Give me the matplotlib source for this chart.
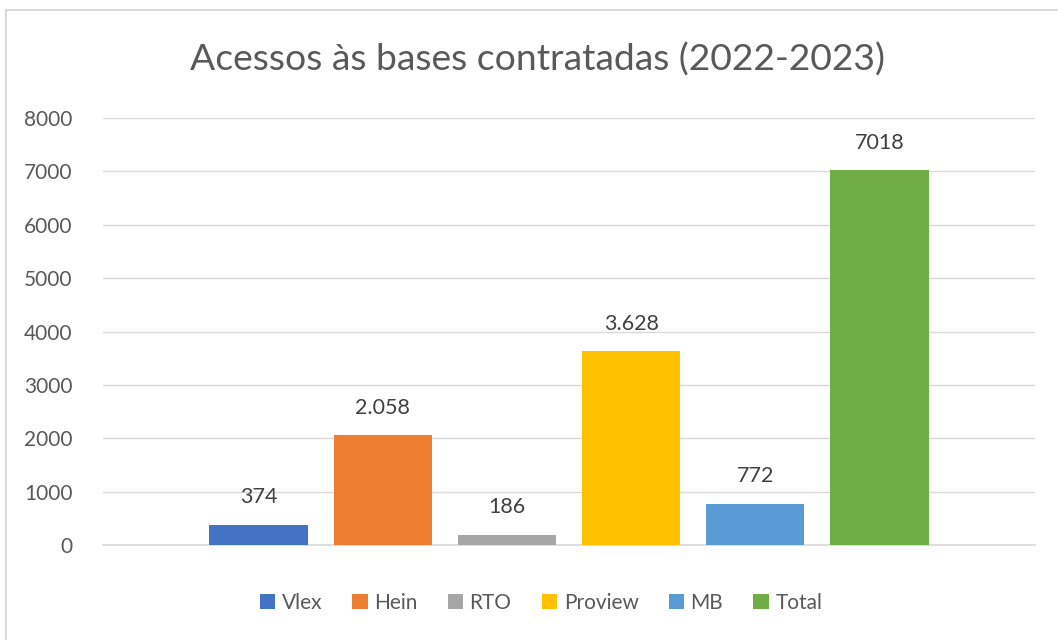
import matplotlib.pyplot as plt
from matplotlib.patches import Rectangle

# dados
series = ['Vlex', 'Hein', 'RTO', 'Proview', 'MB', 'Total']
valores = [374, 2058, 186, 3628, 772, 7018]
rotulos = ['374', '2.058', '186', '3.628', '772', '7018']
cores = ['#4472C4', '#ED7D31', '#A5A5A5', '#FFC000', '#5B9BD5', '#70AD47']
yticks = [0, 1000, 2000, 3000, 4000, 5000, 6000, 7000, 8000]

W, H = 1058, 640
fig = plt.figure(figsize=(W / 100, H / 100), dpi=100)
plt.rcParams['font.family'] = ['Lato', 'DejaVu Sans']

# borda do gráfico (só esquerda/topo visíveis no recorte)
fig.patches.append(Rectangle((6 / W, -0.1), 1.2, (H - 10) / H + 0.1,
                             transform=fig.transFigure, fill=False,
                             edgecolor='#D9D9D9', linewidth=1.5))

ax = fig.add_axes([103 / W, 1 - 545 / H, (1035 - 103) / W, (545 - 118) / H])

for i, (nome, v, lab, c) in enumerate(zip(series, valores, rotulos, cores)):
    ax.bar(i, v, width=0.79, color=c, label=nome, zorder=3)
    ax.text(i, v + 330, lab, ha='center', va='bottom', fontsize=15.5, color='#404040')

ax.set_xlim(-1.252, 6.252)
ax.set_ylim(0, 8000)
ax.set_yticks(yticks)
ax.set_yticklabels([str(t) for t in yticks], fontsize=15, color='#595959')
ax.set_xticks([])
ax.tick_params(axis='y', length=0, pad=22)
ax.grid(axis='y', color='#D9D9D9', linewidth=1, zorder=0)
for s in ['top', 'right', 'left']:
    ax.spines[s].set_visible(False)
ax.spines['bottom'].set_color('#D9D9D9')
ax.spines['bottom'].set_linewidth(1.2)

fig.text(537 / W, 1 - 60 / H, 'Acessos às bases contratadas (2022-2023)',
         ha='center', va='center', fontsize=26.8, color='#595959')

fig.legend(loc='center', bbox_to_anchor=(541 / W, 1 - 603 / H), ncol=6, frameon=False,
           fontsize=15, handlelength=0.75, handleheight=0.75, handletextpad=0.3,
           columnspacing=1.45, labelcolor='#595959')

fig.savefig('out.png', dpi=100)
